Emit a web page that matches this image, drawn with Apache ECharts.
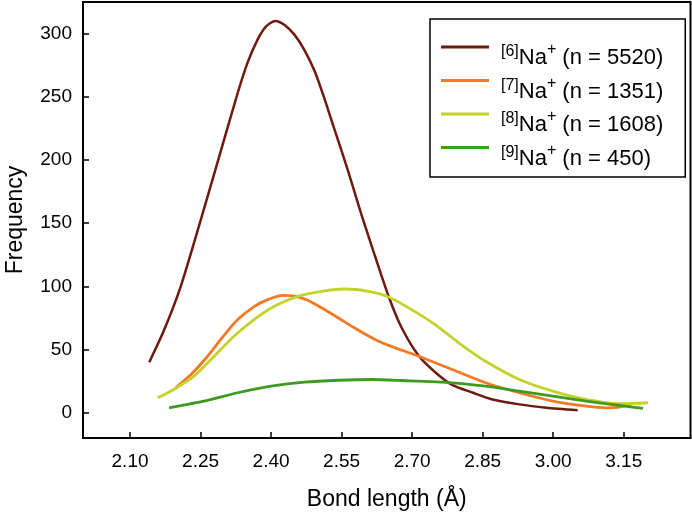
<!DOCTYPE html>
<html>
<head>
<meta charset="utf-8">
<script src="https://cdn.jsdelivr.net/npm/echarts@6/dist/echarts.min.js"></script>
<style>
html,body{margin:0;padding:0;background:#fff;}
#chart{width:692px;height:515px;}
</style>
</head>
<body>
<div id="chart"></div>
<script>
// Tick labels
var xTicks = [2.10, 2.25, 2.40, 2.55, 2.70, 2.85, 3.00, 3.15];
var yTicks = [0, 50, 100, 150, 200, 250, 300];

// Series names / legend
var seriesNames = ['6', '7', '8', '9'];
var seriesCounts = [5520, 1351, 1608, 450];

// [6]Na+
var na6X = [2.141, 2.172, 2.207, 2.25, 2.293, 2.329, 2.35, 2.371, 2.389, 2.409, 2.428, 2.45, 2.471, 2.493, 2.514, 2.535, 2.564, 2.592, 2.621, 2.65, 2.678, 2.714, 2.749, 2.785, 2.828, 2.871, 2.928, 2.985, 3.052];
var na6Y = [40, 65, 99, 152, 207, 253, 277, 295, 305.5, 310, 307, 299, 287, 270, 248, 224, 191, 157, 124, 92, 67, 45, 32, 22, 16, 10.5, 6.6, 4, 2];
// [7]Na+
var na7X = [2.197, 2.229, 2.265, 2.293, 2.329, 2.364, 2.393, 2.425, 2.45, 2.478, 2.507, 2.543, 2.578, 2.621, 2.664, 2.714, 2.785, 2.856, 2.928, 2.999, 3.07, 3.113, 3.141, 3.166];
var na7Y = [19.7, 30, 44.7, 58, 73.7, 84, 89.5, 92.9, 92.3, 89, 83, 75, 67, 58, 51.3, 44.7, 34.2, 23.7, 15.8, 9.2, 5.2, 3.9, 4.4, 6.5];
// [8]Na+
var na8X = [2.159, 2.193, 2.236, 2.279, 2.321, 2.364, 2.407, 2.457, 2.507, 2.557, 2.607, 2.65, 2.699, 2.749, 2.799, 2.856, 2.928, 2.999, 3.07, 3.141, 3.202];
var na8Y = [11.8, 18.4, 28.9, 44.7, 60.5, 73.7, 84.2, 92, 96, 97.9, 96, 91.6, 81.6, 69.7, 55.3, 40.7, 26.3, 17.1, 10.5, 7.1, 7.9];
// [9]Na+
var na9X = [2.183, 2.257, 2.329, 2.4, 2.471, 2.543, 2.614, 2.678, 2.785, 2.856, 2.928, 2.999, 3.07, 3.141, 3.191];
var na9Y = [3.9, 9.2, 15.8, 21, 24.2, 25.7, 26.3, 25.5, 23.7, 21, 17.1, 13.1, 9.2, 5.8, 3.4];

var colors = ['#6e1a10', '#f37a21', '#c5d22b', '#3d9b22'];
var widths = [2.5, 2.8, 2.8, 2.8];

function zip(xs, ys) { return xs.map(function (x, i) { return [x, ys[i]]; }); }
var allX = [na6X, na7X, na8X, na9X];
var allY = [na6Y, na7Y, na8Y, na9Y];

var FONT = '"Liberation Sans", Arial, sans-serif';

var series = seriesNames.map(function (n, i) {
  return {
    name: n,
    type: 'line',
    data: zip(allX[i], allY[i]),
    smooth: 0.25,
    symbol: 'none',
    lineStyle: { color: colors[i], width: widths[i] },
    itemStyle: { color: colors[i], borderWidth: 0 }
  };
});

var chart = echarts.init(document.getElementById('chart'), null, { renderer: 'canvas' });
chart.setOption({
  animation: false,
  textStyle: { fontFamily: FONT },
  grid: {
    left: 83, right: 1.5, top: 2, bottom: 77,
    containLabel: false,
    outerBoundsMode: 'none',
    show: true, borderColor: '#000', borderWidth: 2, backgroundColor: 'transparent'
  },
  legend: {
    orient: 'vertical',
    left: 430, top: 19,
    padding: [23, 22, 6, 11],
    itemGap: 5,
    itemWidth: 48, itemHeight: 25,
    icon: 'path://M0,0H48V3H0ZM0,25H48',
    itemStyle: { borderWidth: 0 },
    borderColor: '#000', borderWidth: 1.5,
    backgroundColor: '#fff',
    data: seriesNames,
    formatter: function (name) {
      var i = seriesNames.indexOf(name);
      return '{sup|[' + name + ']}{na|Na}{plus|+}{n| (n = ' + seriesCounts[i] + ')}';
    },
    textStyle: {
      fontFamily: FONT, color: '#000',
      rich: {
        sup: { fontSize: 16, fontFamily: FONT, color: '#000', verticalAlign: 'middle', padding: [0, 0, 12, 7] },
        na: { fontSize: 22, fontFamily: FONT, color: '#000', verticalAlign: 'middle' },
        plus: { fontSize: 16, fontFamily: FONT, color: '#000', verticalAlign: 'middle', padding: [0, 0, 16, 0] },
        n: { fontSize: 22, fontFamily: FONT, color: '#000', verticalAlign: 'middle' }
      }
    }
  },
  xAxis: {
    type: 'value',
    min: 2.0, max: 3.292,
    name: 'Bond length (Å)',
    nameLocation: 'middle',
    nameGap: 50,
    nameTextStyle: { fontSize: 23, color: '#000', fontFamily: FONT },
    axisLine: { show: true, onZero: false, lineStyle: { color: '#000', width: 2 } },
    axisTick: { show: true, inside: true, length: 6, lineStyle: { color: '#000', width: 1.5 }, customValues: xTicks },
    axisLabel: { fontSize: 19, color: '#000', margin: 14, fontFamily: FONT, customValues: xTicks,
      formatter: function (v) { return v.toFixed(2); } },
    splitLine: { show: false }
  },
  yAxis: {
    type: 'value',
    min: -20, max: 325,
    name: 'Frequency',
    nameLocation: 'middle',
    nameGap: 56,
    nameTextStyle: { fontSize: 23, color: '#000', fontFamily: FONT },
    axisLine: { show: true, onZero: false, lineStyle: { color: '#000', width: 2 } },
    axisTick: { show: true, inside: true, length: 6, lineStyle: { color: '#000', width: 1.5 }, customValues: yTicks },
    axisLabel: { fontSize: 19, color: '#000', margin: 11, fontFamily: FONT, customValues: yTicks },
    splitLine: { show: false }
  },
  series: series
});
</script>
</body>
</html>
